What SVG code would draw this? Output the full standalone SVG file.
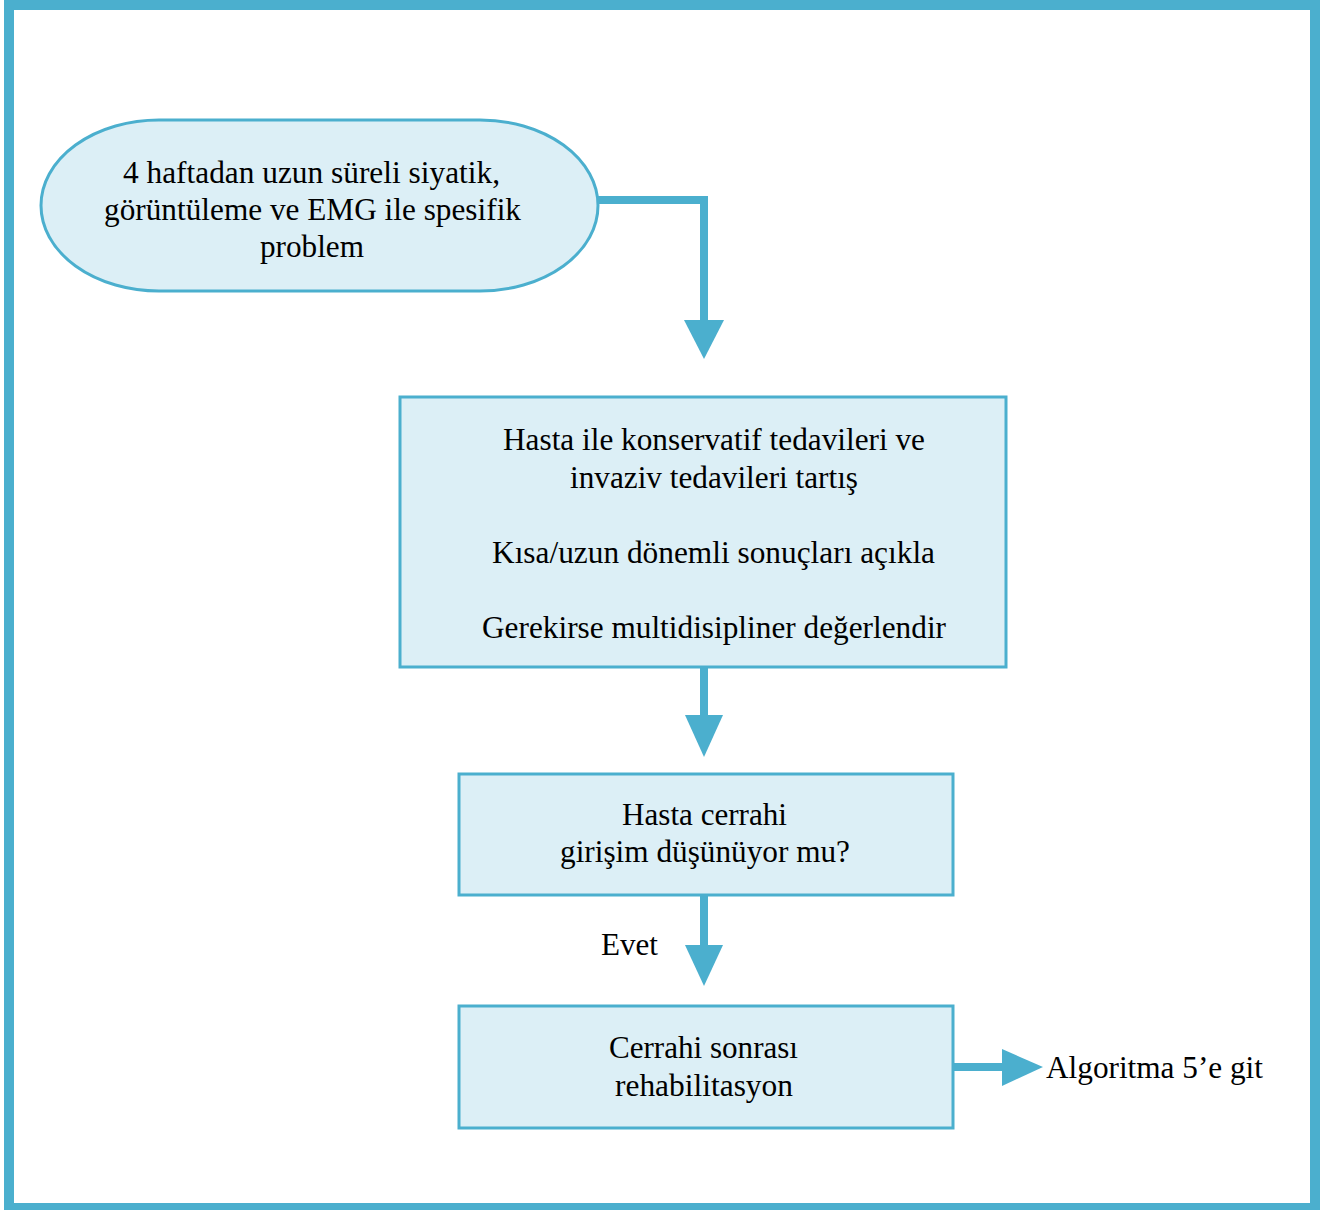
<svg xmlns="http://www.w3.org/2000/svg" width="1321" height="1210" viewBox="0 0 1321 1210">
<defs>
<style>
.node{fill:#DCEFF6;stroke:#4BAFCE;stroke-width:3}
.t{font-family:"Liberation Serif","Times New Roman",Times,serif;font-size:31.4px;fill:#000;text-anchor:middle}
.line{fill:none;stroke:#4BAFCE;stroke-width:8}
.head{fill:#4BAFCE}
</style>
</defs>
<rect x="0" y="0" width="1321" height="1210" fill="#fff"/>
<rect x="9" y="5" width="1306" height="1203" fill="none" stroke="#4BAFCE" stroke-width="10"/>
<g id="connectors">
<path class="line" d="M598,200 H704 V322"/>
<polygon class="head" points="684,320 724,320 704,359"/>
<path class="line" d="M704,667 V717"/>
<polygon class="head" points="685,715 723,715 704,757"/>
<path class="line" d="M704,895 V947"/>
<polygon class="head" points="685,945 723,945 704,986"/>
<path class="line" d="M953,1067 H1005"/>
<polygon class="head" points="1002,1049 1002,1086 1043,1067"/>
<text class="t" x="629.5" y="955" textLength="57" lengthAdjust="spacingAndGlyphs">Evet</text>
</g>
<g id="start">
<rect class="node" x="41" y="120" width="557" height="171" rx="118" ry="85.5"/>
<text class="t" x="311.5" y="183" textLength="377" lengthAdjust="spacingAndGlyphs">4 haftadan uzun süreli siyatik,</text>
<text class="t" x="312.5" y="220" textLength="417" lengthAdjust="spacingAndGlyphs">görüntüleme ve EMG ile spesifik</text>
<text class="t" x="312" y="257" textLength="104" lengthAdjust="spacingAndGlyphs">problem</text>
</g>
<g id="discuss">
<rect class="node" x="400" y="397" width="606" height="270"/>
<text class="t" x="714" y="450" textLength="422" lengthAdjust="spacingAndGlyphs">Hasta ile konservatif tedavileri ve</text>
<text class="t" x="714" y="488" textLength="288" lengthAdjust="spacingAndGlyphs">invaziv tedavileri tartış</text>
<text class="t" x="713.5" y="563" textLength="443" lengthAdjust="spacingAndGlyphs">Kısa/uzun dönemli sonuçları açıkla</text>
<text class="t" x="714" y="638" textLength="464" lengthAdjust="spacingAndGlyphs">Gerekirse multidisipliner değerlendir</text>
</g>
<g id="decision">
<rect class="node" x="459" y="774" width="494" height="121"/>
<text class="t" x="704.5" y="825" textLength="165" lengthAdjust="spacingAndGlyphs">Hasta cerrahi</text>
<text class="t" x="705" y="862" textLength="290" lengthAdjust="spacingAndGlyphs">girişim düşünüyor mu?</text>
</g>
<g id="rehab">
<rect class="node" x="459" y="1006" width="494" height="122"/>
<text class="t" x="703.5" y="1058" textLength="189" lengthAdjust="spacingAndGlyphs">Cerrahi sonrası</text>
<text class="t" x="704" y="1096" textLength="178" lengthAdjust="spacingAndGlyphs">rehabilitasyon</text>
</g>
<g id="goto">
<text class="t" x="1046" y="1078" style="text-anchor:start" textLength="217" lengthAdjust="spacingAndGlyphs">Algoritma 5’e git</text>
</g>
</svg>
